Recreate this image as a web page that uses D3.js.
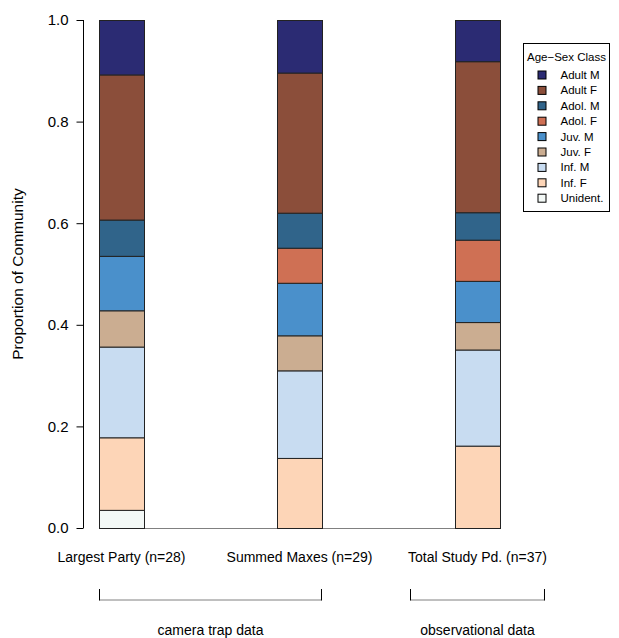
<!DOCTYPE html>
<html>
<head>
<meta charset="utf-8">
<script src="https://cdn.jsdelivr.net/npm/d3@7/dist/d3.min.js"></script>
<style>
  body { margin: 0; background: #fff; }
  svg { display: block; font-family: "Liberation Sans", Arial, Helvetica, sans-serif; }
</style>
</head>
<body>
<svg id="chart" width="619" height="638"></svg>
<script>
// ---- data ----
const groups = ["Largest Party (n=28)", "Summed Maxes (n=29)", "Total Study Pd. (n=37)"];
const classes = ["Unident.", "Inf. F", "Inf. M", "Juv. F", "Juv. M", "Adol. F", "Adol. M", "Adult F", "Adult M"]; // bottom to top
const colors  = ["#f3f8f6", "#fdd5b7", "#c8dcf1", "#cbad91", "#4a90cb", "#cf7054", "#30648a", "#8b4e3a", "#2b2b73"];
// counts per class (same order as classes) for each group
const countsLargest = [1, 4, 5, 2, 3, 0, 2, 8, 3];
const countsSummed  = [0, 4, 5, 2, 3, 2, 2, 8, 3];
const countsTotal   = [0, 6, 7, 2, 3, 3, 2, 11, 3];
const yTicks = [0, 0.2, 0.4, 0.6, 0.8, 1.0];
const brackets = [
  { label: "camera trap data", from: 0, to: 1, extend: 0 },
  { label: "observational data", from: 2, to: 2, extend: 1 }
];

// ---- build ----
const FS = 14;
const svg = d3.select("#chart");
const allCounts = [countsLargest, countsSummed, countsTotal];

const x = d3.scaleBand().domain(groups).range([32.5, 566.5]).paddingInner(0.7472).paddingOuter(0.3736);
const y = d3.scaleLinear().domain([0, 1]).range([528, 20]);

const rows = groups.map((g, gi) => {
  const c = allCounts[gi];
  const n = d3.sum(c);
  const r = { group: g };
  classes.forEach((k, ki) => r[k] = c[ki] / n);
  return r;
});
const stack = d3.stack().keys(classes)(rows);

// baseline line (gray) spanning the bars
svg.append("line")
  .attr("x1", x(groups[0])).attr("x2", x(groups[groups.length - 1]) + x.bandwidth())
  .attr("y1", y(0) + 0.5).attr("y2", y(0) + 0.5)
  .attr("stroke", "#808080").attr("stroke-width", 1);

const layer = svg.append("g").selectAll("g").data(stack).join("g")
  .attr("fill", (d, i) => colors[i]);
layer.selectAll("rect").data(d => d.filter(s => s[1] - s[0] > 0)).join("rect")
  .attr("x", d => x(d.data.group) + 0.5)
  .attr("width", x.bandwidth())
  .attr("y", d => y(d[1]) + 0.5)
  .attr("height", d => y(d[0]) - y(d[1]))
  .attr("stroke", "#222").attr("stroke-width", 1);

// y axis
const yAxis = d3.axisLeft(y).tickValues(yTicks).tickFormat(d3.format(".1f")).tickSize(7).tickPadding(8);
const ga = svg.append("g").attr("transform", "translate(83.5,0)").call(yAxis);
ga.select(".domain").attr("d", `M0,${y(1)}V${y(0)}`).attr("stroke", "#000");
ga.selectAll(".tick line").attr("stroke", "#000");
ga.selectAll(".tick text").attr("font-size", 15).attr("fill", "#000").attr("font-family", "Liberation Sans, Arial, sans-serif");

svg.append("text")
  .attr("transform", `translate(23,${(y(0) + y(1)) / 2}) rotate(-90)`)
  .attr("text-anchor", "middle").attr("font-size", 15.5).attr("fill", "#000")
  .text("Proportion of Community");

// group labels
svg.append("g").selectAll("text").data(groups).join("text")
  .attr("x", d => x(d) + x.bandwidth() / 2)
  .attr("y", 562)
  .attr("text-anchor", "middle").attr("font-size", FS).attr("fill", "#000")
  .text(d => d);

// brackets
const bg = svg.append("g").selectAll("g").data(brackets).join("g");
bg.each(function(b) {
  const g = d3.select(this);
  const cx0 = x(groups[b.from]) + x.bandwidth() / 2;
  const cx1 = x(groups[b.to]) + x.bandwidth() / 2;
  const half = b.extend ? x.bandwidth() * 1.5 : x.bandwidth() / 2;
  const x0 = cx0 - half + 0.5, x1 = cx1 + half - 0.5;
  g.append("line").attr("x1", x0).attr("x2", x1).attr("y1", 600).attr("y2", 600)
    .attr("stroke", "#808080").attr("stroke-width", 1);
  g.append("line").attr("x1", x0).attr("x2", x0).attr("y1", 589).attr("y2", 600.5)
    .attr("stroke", "#000").attr("stroke-width", 1);
  g.append("line").attr("x1", x1).attr("x2", x1).attr("y1", 589).attr("y2", 600.5)
    .attr("stroke", "#000").attr("stroke-width", 1);
  g.append("text").attr("x", (x0 + x1) / 2).attr("y", 635)
    .attr("text-anchor", "middle").attr("font-size", FS).attr("fill", "#000")
    .text(b.label);
});

// legend
const leg = svg.append("g").attr("transform", "translate(523.5,43.5)");
leg.append("rect").attr("width", 86).attr("height", 168).attr("fill", "#fff").attr("stroke", "#000");
leg.append("text").attr("x", 43).attr("y", 17).attr("text-anchor", "middle")
  .attr("font-size", 11.5).attr("fill", "#000").text("Age\u2212Sex Class");
const legItems = classes.map((k, i) => ({ k, c: colors[i] })).reverse();
const li = leg.selectAll("g.item").data(legItems).join("g").attr("class", "item")
  .attr("transform", (d, i) => `translate(0,${31.5 + i * 15.4})`);
li.append("rect").attr("x", 14.5).attr("y", -4).attr("width", 8).attr("height", 8)
  .attr("fill", d => d.c).attr("stroke", "#000").attr("stroke-width", 1);
li.append("text").attr("x", 37).attr("y", 4).attr("font-size", 11.5).attr("fill", "#000").text(d => d.k);
</script>
</body>
</html>
